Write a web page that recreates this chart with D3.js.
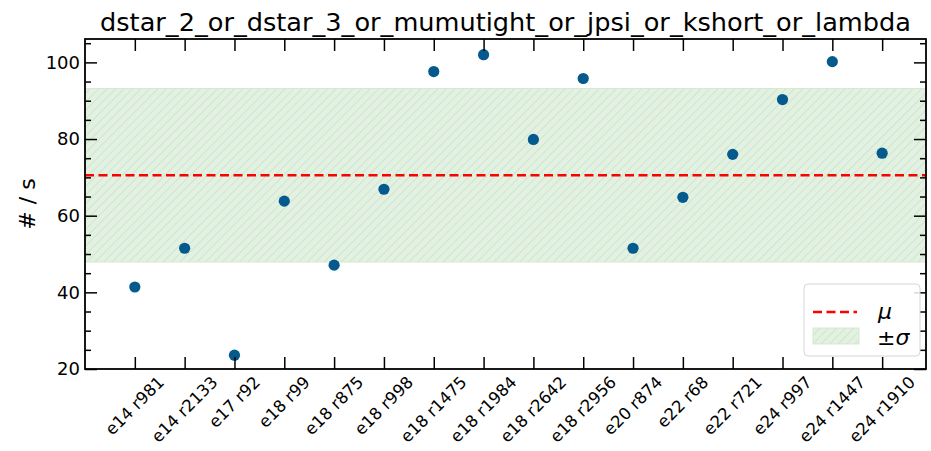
<!DOCTYPE html>
<html>
<head>
<meta charset="utf-8">
<script src="https://cdn.jsdelivr.net/npm/d3@7"></script>
<style>
  html, body { margin: 0; padding: 0; background: #fff; }
  svg { display: block; font-family: "DejaVu Sans", sans-serif; }
</style>
</head>
<body>
<svg id="chart" width="931" height="451"></svg>
<script>
// Rates per run
const runs = ["e14 r981", "e14 r2133", "e17 r92", "e18 r99", "e18 r875", "e18 r998",
  "e18 r1475", "e18 r1984", "e18 r2642", "e18 r2956", "e20 r874", "e22 r68",
  "e22 r721", "e24 r997", "e24 r1447", "e24 r1910"];
const rates = [41.4, 51.5, 23.6, 63.8, 47.1, 66.9, 97.6, 102.0, 79.9, 95.8,
  51.5, 64.8, 76.0, 90.3, 100.2, 76.3];
const yTicks = [20, 40, 60, 80, 100];
const titleText = "dstar_2_or_dstar_3_or_mumutight_or_jpsi_or_kshort_or_lambda";

// Mean and population standard deviation of the rates
const mu = d3.mean(rates);
const sigma = Math.sqrt(d3.mean(rates, v => (v - mu) ** 2));

const svg = d3.select("#chart");
const m = { left: 85, right: 926, top: 39, bottom: 369 };

const x = d3.scaleLinear().domain([-1, 15.88]).range([m.left, m.right]);
const y = d3.scaleLinear().domain([20, 106.1]).range([m.bottom, m.top]);

// Hatch pattern for the ±σ band
const defs = svg.append("defs");
const pat = defs.append("pattern")
  .attr("id", "hatch").attr("patternUnits", "userSpaceOnUse")
  .attr("width", 6).attr("height", 6)
  .attr("patternTransform", "rotate(45)");
pat.append("rect").attr("width", 6).attr("height", 6).attr("fill", "#e3f1e2");
pat.append("line").attr("x1", 0).attr("y1", 0).attr("x2", 0).attr("y2", 6)
  .attr("stroke", "#c9e4c7").attr("stroke-width", 1.6);

defs.append("clipPath").attr("id", "plotclip").append("rect")
  .attr("x", m.left).attr("y", m.top)
  .attr("width", m.right - m.left).attr("height", m.bottom - m.top);

const plot = svg.append("g").attr("clip-path", "url(#plotclip)");

// ±σ band
plot.append("rect")
  .attr("x", m.left).attr("width", m.right - m.left)
  .attr("y", y(mu + sigma)).attr("height", y(mu - sigma) - y(mu + sigma))
  .attr("fill", "url(#hatch)")
  .attr("stroke", "#cfe7cd").attr("stroke-width", 0.8);

// Mean line
plot.append("line")
  .attr("x1", m.left).attr("x2", m.right)
  .attr("y1", y(mu)).attr("y2", y(mu))
  .attr("stroke", "#ff0000").attr("stroke-width", 2.6)
  .attr("stroke-dasharray", "9,4.5");

// Data points
plot.selectAll("circle.pt").data(rates).join("circle")
  .attr("class", "pt")
  .attr("cx", (d, i) => x(i)).attr("cy", d => y(d))
  .attr("r", 5.6).attr("fill", "#045a8d");

// Axes with inward ticks
const idx = d3.range(runs.length);
const minor = d3.range(20, 106, 5).filter(v => !yTicks.includes(v));

function styleAxis(g) {
  g.select(".domain").remove();
  g.selectAll(".tick line").attr("stroke", "#000").attr("stroke-width", 1.5);
}

// bottom
const gb = svg.append("g").attr("transform", `translate(0,${m.bottom})`)
  .call(d3.axisBottom(x).tickValues(idx).tickSize(-12).tickFormat(""));
styleAxis(gb);
// top
const gt = svg.append("g").attr("transform", `translate(0,${m.top})`)
  .call(d3.axisTop(x).tickValues(idx).tickSize(-12).tickFormat(""));
styleAxis(gt);
// left major + minor
const gl = svg.append("g").attr("transform", `translate(${m.left},0)`)
  .call(d3.axisLeft(y).tickValues(yTicks).tickSize(-12).tickPadding(5).tickFormat(d3.format("d")));
styleAxis(gl);
gl.selectAll(".tick text").attr("font-size", 18).attr("fill", "#000")
  .attr("font-family", "DejaVu Sans");
const glm = svg.append("g").attr("transform", `translate(${m.left},0)`)
  .call(d3.axisLeft(y).tickValues(minor).tickSize(-6).tickFormat(""));
styleAxis(glm);
// right major + minor
const gr = svg.append("g").attr("transform", `translate(${m.right},0)`)
  .call(d3.axisRight(y).tickValues(yTicks).tickSize(-12).tickFormat(""));
styleAxis(gr);
const grm = svg.append("g").attr("transform", `translate(${m.right},0)`)
  .call(d3.axisRight(y).tickValues(minor).tickSize(-6).tickFormat(""));
styleAxis(grm);

// Frame
svg.append("rect")
  .attr("x", m.left).attr("y", m.top)
  .attr("width", m.right - m.left).attr("height", m.bottom - m.top)
  .attr("fill", "none").attr("stroke", "#000").attr("stroke-width", 1.8);

// Rotated category labels, centred under each tick, top edge just below the axis
const fs = 16.5;
const lab = svg.append("g");
runs.forEach((r, i) => {
  const t = lab.append("text")
    .attr("font-size", fs).attr("fill", "#000")
    .attr("text-anchor", "middle").attr("dominant-baseline", "central")
    .text(r);
  const L = t.node().getComputedTextLength();
  const half = (L + 0.58 * fs) * Math.SQRT1_2 / 2;
  t.attr("transform", `translate(${x(i)},${376 + half}) rotate(-45)`);
});

// Y label
svg.append("text")
  .attr("transform", `translate(27,${(m.top + m.bottom) / 2}) rotate(-90)`)
  .attr("text-anchor", "middle").attr("dominant-baseline", "central")
  .attr("font-size", 22).text("# / s");

// Title
svg.append("text")
  .attr("x", (m.left + m.right) / 2).attr("y", 31)
  .attr("text-anchor", "middle").attr("font-size", 25.6)
  .text(titleText);

// Legend
const lg = svg.append("g").attr("transform", "translate(804,284)");
lg.append("rect").attr("width", 116).attr("height", 72).attr("rx", 4)
  .attr("fill", "#fff").attr("fill-opacity", 0.85)
  .attr("stroke", "#d6d6d6").attr("stroke-width", 1);
lg.append("line").attr("x1", 9).attr("x2", 53).attr("y1", 28).attr("y2", 28)
  .attr("stroke", "#ff0000").attr("stroke-width", 2.6).attr("stroke-dasharray", "9,4.5");
lg.append("text").attr("x", 81).attr("y", 27).attr("dominant-baseline", "central")
  .attr("text-anchor", "middle").attr("font-size", 22).attr("font-style", "italic")
  .text("μ");
lg.append("rect").attr("x", 9).attr("y", 44).attr("width", 46).attr("height", 16)
  .attr("fill", "url(#hatch)").attr("stroke", "#cfe7cd").attr("stroke-width", 0.8);
const sg = lg.append("text").attr("x", 73).attr("y", 53).attr("dominant-baseline", "central")
  .attr("font-size", 22);
sg.append("tspan").text("±");
sg.append("tspan").attr("font-style", "italic").text("σ");
</script>
</body>
</html>
